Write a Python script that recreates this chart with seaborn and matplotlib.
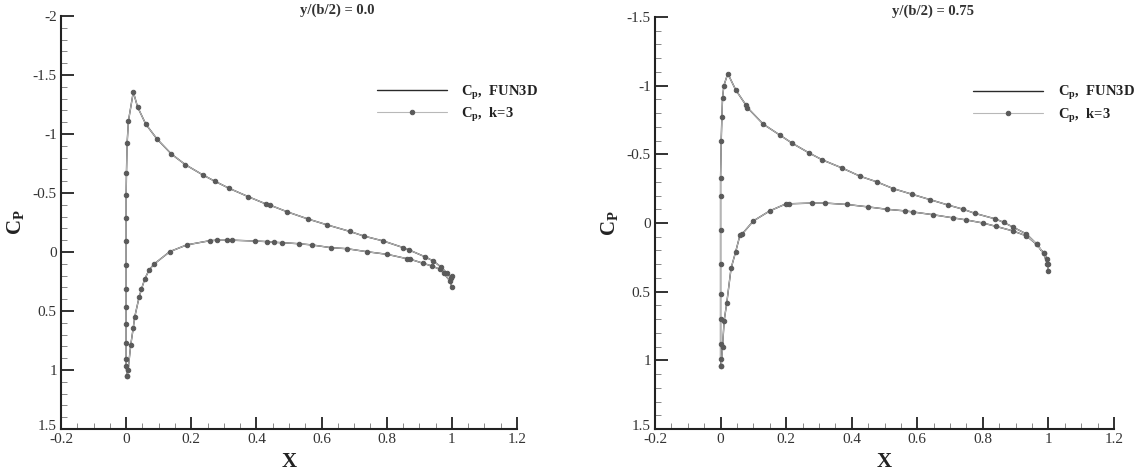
import numpy as np
import pandas as pd
import matplotlib
matplotlib.use("Agg")
import matplotlib.pyplot as plt
import matplotlib.transforms as mtransforms
import seaborn as sns
from matplotlib.ticker import MultipleLocator, FuncFormatter

sns.set_theme(style="ticks")
plt.rcParams['font.family'] = ['Liberation Serif', 'DejaVu Serif']
plt.rcParams['mathtext.fontset'] = 'custom'
plt.rcParams['mathtext.rm'] = 'Liberation Serif'
plt.rcParams['mathtext.bf'] = 'Liberation Serif:bold'
plt.rcParams['axes.unicode_minus'] = False

# ---------------- data: section y/(b/2) = 0.0 ----------------
titles = ["y/(b/2) = 0.0", "y/(b/2) = 0.75"]

x_up_0 = [0.003, 0.0, 0.0, 0.0, 0.0, 0.0, 0.0, 0.0, 0.0, 0.0, 0.0, 0.001, 0.003, 0.007,
          0.022, 0.035, 0.06, 0.094, 0.139, 0.182, 0.235, 0.272, 0.316, 0.374, 0.43,
          0.442, 0.495, 0.558, 0.617, 0.686, 0.73, 0.79, 0.851, 0.869, 0.917, 0.943,
          0.968, 0.985, 0.997, 1.0]
cp_up_0 = [1.05, 0.97, 0.91, 0.77, 0.61, 0.47, 0.31, 0.11, -0.09, -0.29, -0.48, -0.67,
           -0.92, -1.11, -1.356, -1.23, -1.085, -0.96, -0.83, -0.74, -0.654, -0.60,
           -0.54, -0.47, -0.406, -0.397, -0.34, -0.28, -0.23, -0.175, -0.135, -0.093,
           -0.037, -0.017, 0.04, 0.076, 0.13, 0.18, 0.22, 0.20]
x_lo_0 = [0.003, 0.006, 0.014, 0.022, 0.026, 0.04, 0.047, 0.057, 0.07, 0.085, 0.134,
          0.186, 0.257, 0.28, 0.31, 0.325, 0.397, 0.433, 0.455, 0.478, 0.531, 0.57,
          0.628, 0.678, 0.738, 0.802, 0.861, 0.871, 0.912, 0.938, 0.963, 0.975,
          0.994, 1.0]
cp_lo_0 = [1.05, 1.0, 0.79, 0.64, 0.555, 0.38, 0.315, 0.23, 0.155, 0.104, -0.003,
           -0.06, -0.096, -0.10, -0.10, -0.10, -0.093, -0.088, -0.082, -0.079, -0.07,
           -0.06, -0.037, -0.028, -0.003, 0.02, 0.056, 0.06, 0.096, 0.118, 0.146,
           0.18, 0.245, 0.30]

# ---------------- data: section y/(b/2) = 0.75 ----------------
x_up_1 = [0.002, 0.0, 0.0, 0.0, 0.0, 0.0, 0.0, 0.0, 0.0, 0.002, 0.004, 0.006, 0.01,
          0.022, 0.046, 0.077, 0.082, 0.13, 0.181, 0.219, 0.27, 0.31, 0.371, 0.426,
          0.476, 0.527, 0.583, 0.639, 0.695, 0.74, 0.776, 0.838, 0.863, 0.892,
          0.933, 0.965, 0.985, 0.997, 1.0]
cp_up_1 = [1.04, 0.99, 0.88, 0.70, 0.52, 0.30, 0.05, -0.20, -0.33, -0.60, -0.77,
           -0.91, -1.0, -1.088, -0.97, -0.86, -0.84, -0.72, -0.64, -0.58, -0.51, -0.46,
           -0.40, -0.34, -0.30, -0.25, -0.21, -0.17, -0.13, -0.10, -0.07, -0.03,
           -0.005, 0.03, 0.08, 0.155, 0.22, 0.26, 0.30]
x_lo_1 = [0.002, 0.006, 0.011, 0.019, 0.032, 0.046, 0.059, 0.066, 0.10, 0.15, 0.20,
          0.21, 0.28, 0.32, 0.385, 0.451, 0.507, 0.563, 0.588, 0.649, 0.71, 0.748,
          0.80, 0.841, 0.892, 0.933, 0.964, 0.985, 0.997, 1.0]
cp_lo_1 = [1.04, 0.90, 0.71, 0.58, 0.33, 0.21, 0.09, 0.08, -0.015, -0.088, -0.14,
           -0.14, -0.145, -0.145, -0.135, -0.117, -0.10, -0.088, -0.08, -0.06, -0.037,
           -0.023, 0.0, 0.025, 0.058, 0.094, 0.155, 0.22, 0.30, 0.35]

x_ticks = [-0.2, 0, 0.2, 0.4, 0.6, 0.8, 1, 1.2]
y_limits = [(-2.0, 1.5), (-1.5, 1.5)]

series = [(x_up_0, cp_up_0, x_lo_0, cp_lo_0), (x_up_1, cp_up_1, x_lo_1, cp_lo_1)]

W, H = 1148, 471
fig = plt.figure(figsize=(W / 100, H / 100), dpi=100)
ax_boxes = [(61, 16, 517, 429), (655, 17, 1114, 429)]

fmt = FuncFormatter(lambda v, p: f"{v:g}")
lift = mtransforms.ScaledTranslation(0, 4 / 100, fig.dpi_scale_trans)

for i, (xu, cu, xl, cl) in enumerate(series):
    l, t, r, b = ax_boxes[i]
    ax = fig.add_axes([l / W, 1 - b / H, (r - l) / W, (b - t) / H])
    # closed path: lower surface from TE to LE, then upper surface LE to TE
    xs = list(reversed(xl)) + list(xu)
    cs = list(reversed(cl)) + list(cu)
    df = pd.DataFrame({"x": xs, "cp": cs})
    sns.lineplot(data=df, x="x", y="cp", sort=False, estimator=None, ax=ax,
                 color="#2a2a2a", lw=1.0, label=r"C$_\mathbf{p}$,  FUN3D", zorder=3)
    sns.lineplot(data=df, x="x", y="cp", sort=False, estimator=None, ax=ax,
                 color="#b8b8b8", lw=0.8, marker="o", markersize=3.2,
                 markerfacecolor="#5a5a5a", markeredgecolor="#5a5a5a",
                 label=r"C$_\mathbf{p}$,  k=3", zorder=4)

    ax.set_xlim(-0.2, 1.2)
    ax.set_ylim(y_limits[i][1], y_limits[i][0])
    ax.set_xticks(x_ticks)
    ax.xaxis.set_minor_locator(MultipleLocator(0.05))
    ax.yaxis.set_major_locator(MultipleLocator(0.5))
    ax.yaxis.set_minor_locator(MultipleLocator(0.1))
    ax.xaxis.set_major_formatter(fmt)
    ax.yaxis.set_major_formatter(fmt)
    for side in ["top", "right"]:
        ax.spines[side].set_visible(False)
    for side in ["left", "bottom"]:
        ax.spines[side].set_linewidth(1.5)
        ax.spines[side].set_color("#222222")
    ax.tick_params(which="major", direction="in", length=9, width=1.3, color="#222222",
                   labelsize=11, labelcolor="#333333", pad=3)
    ax.tick_params(which="minor", direction="in", length=4.5, width=0.7, color="#888888")
    ax.set_xlabel("X", fontsize=15, fontweight="bold", color="#222222", labelpad=4)
    ax.set_ylabel(r"C$_\mathbf{P}$", fontsize=15, fontweight="bold", color="#222222",
                  labelpad=4)
    ax.text(0.605, 1.0 + 6 / (b - t), titles[i], transform=ax.transAxes, ha="center",
            va="center", fontsize=10.5, fontweight="bold", color="#333333")
    leg = ax.legend(loc="upper left", bbox_to_anchor=(0.68, 0.852), frameon=False,
                    fontsize=10.5, handlelength=4.8, handletextpad=1.0,
                    labelspacing=0.25, borderaxespad=0)
    for txt in leg.get_texts():
        txt.set_fontweight("bold")
        txt.set_color("#222222")

    # lift the bottom y label (1.5) slightly above the x axis, as in the reference
    fig.canvas.draw()
    ylabels = ax.get_yticklabels()
    for lab in ylabels:
        if lab.get_text() == "1.5":
            lab.set_transform(lab.get_transform() + lift)

fig.savefig("out.png", dpi=100)
